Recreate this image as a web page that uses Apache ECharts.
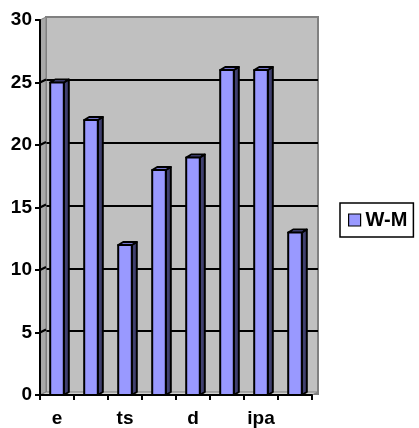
<!DOCTYPE html>
<html>
<head>
<meta charset="utf-8">
<title>W-M</title>
<script src="https://cdn.jsdelivr.net/npm/echarts@6/dist/echarts.min.js"></script>
<style>
  html, body { margin: 0; padding: 0; background: #ffffff; }
  #chart { width: 419px; height: 428px; }
</style>
</head>
<body>
<div id="chart"></div>
<script>
// Category labels (only every other one carries text)
const categories = ['e', '', 'ts', '', 'd', '', 'ipa', ''];
// W-M series values
const wmValues = [25, 22, 12, 18, 19, 26, 26, 13];
// Value axis ticks
const yTickValues = [0, 5, 10, 15, 20, 25, 30];

const Y_MIN = yTickValues[0];
const Y_MAX = yTickValues[yTickValues.length - 1];
const Y_STEP = yTickValues[1] - yTickValues[0];

// Depth offsets used to fake the 3D look
const WALL_DX = 6, WALL_DY = -3;
const BAR_DX = 5, BAR_DY = -3;

const FONT = '"Liberation Sans", Arial, sans-serif';

const chart = echarts.init(document.getElementById('chart'), null, { renderer: 'canvas' });

// Side wall and floor of the 3D box
function renderWalls(params, api) {
  const bw = api.size([1, 0])[0];
  const xL = api.coord([0, Y_MIN])[0] - bw / 2;
  const xR = api.coord([categories.length - 1, Y_MIN])[0] + bw / 2;
  const y0 = api.coord([0, Y_MIN])[1];
  const yT = api.coord([0, Y_MAX])[1];
  const children = [
    {
      type: 'polygon',
      shape: { points: [[xL, y0], [xL, yT], [xL + WALL_DX, yT + WALL_DY], [xL + WALL_DX, y0 + WALL_DY]] },
      style: { fill: '#A8A8A8', stroke: '#808080', lineWidth: 1 }
    },
    {
      type: 'polygon',
      shape: { points: [[xL, y0], [xR, y0], [xR + WALL_DX, y0 + WALL_DY], [xL + WALL_DX, y0 + WALL_DY]] },
      style: { fill: '#D0D0D0', stroke: '#808080', lineWidth: 1 }
    }
  ];
  yTickValues.forEach(function (v) {
    if (v === Y_MIN || v === Y_MAX) return;
    const y = api.coord([0, v])[1];
    children.push({
      type: 'line',
      shape: { x1: xL, y1: y, x2: xL + WALL_DX, y2: y + WALL_DY },
      style: { stroke: '#000', lineWidth: 2 }
    });
  });
  return { type: 'group', children: children };
}

// One 3D bar: front face, side face and top face
function renderBar(params, api) {
  const idx = api.value(0);
  const val = api.value(1);
  const top = api.coord([idx, val]);
  const base = api.coord([idx, Y_MIN]);
  const bw = api.size([1, 0])[0];
  const half = bw * 0.2;
  const x0 = top[0] - half, x1 = top[0] + half;
  const yt = top[1], yb = base[1];
  const edge = { stroke: '#000', lineWidth: 2, lineJoin: 'round' };
  return {
    type: 'group',
    children: [
      {
        type: 'polygon',
        shape: { points: [[x1, yt], [x1 + BAR_DX, yt + BAR_DY], [x1 + BAR_DX, yb + BAR_DY], [x1, yb]] },
        style: Object.assign({ fill: '#404070' }, edge)
      },
      {
        type: 'polygon',
        shape: { points: [[x0, yt], [x0 + BAR_DX, yt + BAR_DY], [x1 + BAR_DX, yt + BAR_DY], [x1, yt]] },
        style: Object.assign({ fill: '#7373CC' }, edge)
      },
      {
        type: 'rect',
        shape: { x: x0, y: yt, width: x1 - x0, height: yb - yt },
        style: Object.assign({ fill: '#9999FF' }, edge)
      }
    ]
  };
}

const mainGrid = { left: 40, right: 107, top: 20, bottom: 31 };

const option = {
  animation: false,
  backgroundColor: '#ffffff',
  grid: [
    // front plane: axes and bars
    { left: mainGrid.left, right: mainGrid.right, top: mainGrid.top, bottom: mainGrid.bottom },
    // back wall with gridlines
    {
      left: mainGrid.left + WALL_DX, right: mainGrid.right - WALL_DX,
      top: mainGrid.top + WALL_DY, bottom: mainGrid.bottom - WALL_DY,
      show: true, backgroundColor: '#C0C0C0', borderColor: '#808080', borderWidth: 2
    }
  ],
  xAxis: [
    {
      gridIndex: 0, type: 'category', data: categories, z: 10,
      axisLine: { show: true, lineStyle: { color: '#000', width: 2 } },
      axisTick: { show: true, inside: false, length: 5, interval: 0, lineStyle: { color: '#000', width: 2 } },
      axisLabel: { interval: 0, margin: 14, color: '#000', fontFamily: FONT, fontWeight: 'bold', fontSize: 19 },
      splitLine: { show: false }
    },
    {
      gridIndex: 1, type: 'category', data: categories,
      axisLine: { show: false }, axisTick: { show: false }, axisLabel: { show: false }, splitLine: { show: false }
    }
  ],
  yAxis: [
    {
      gridIndex: 0, type: 'value', min: Y_MIN, max: Y_MAX, interval: Y_STEP, z: 10,
      axisLine: { show: true, lineStyle: { color: '#000', width: 2 } },
      axisTick: { show: true, inside: false, length: 5, lineStyle: { color: '#000', width: 2 } },
      axisLabel: { margin: 8, color: '#000', fontFamily: FONT, fontWeight: 'bold', fontSize: 19 },
      splitLine: { show: false }
    },
    {
      gridIndex: 1, type: 'value', min: Y_MIN, max: Y_MAX, interval: Y_STEP,
      axisLine: { show: false }, axisTick: { show: false }, axisLabel: { show: false },
      splitLine: { show: true, showMinLine: false, showMaxLine: false, lineStyle: { color: '#000', width: 2 } }
    }
  ],
  legend: {
    show: true,
    left: 340, top: 203,
    orient: 'vertical',
    padding: [7, 6, 7, 8],
    borderColor: '#000', borderWidth: 1.5,
    backgroundColor: '#fff',
    itemWidth: 12, itemHeight: 12,
    itemGap: 5,
    data: [{ name: 'W-M', icon: 'rect', itemStyle: { color: '#9999FF', borderColor: '#000', borderWidth: 1.2 } }],
    textStyle: { color: '#000', fontFamily: FONT, fontWeight: 'bold', fontSize: 20 }
  },
  series: [
    {
      name: 'walls', type: 'custom', xAxisIndex: 0, yAxisIndex: 0, z: 1, silent: true,
      renderItem: renderWalls, data: [[0, 0]]
    },
    {
      name: 'W-M', type: 'custom', xAxisIndex: 0, yAxisIndex: 0, z: 3,
      itemStyle: { color: '#9999FF' },
      renderItem: renderBar,
      encode: { x: 0, y: 1 },
      data: wmValues.map(function (v, i) { return [i, v]; })
    }
  ]
};

chart.setOption(option);
</script>
</body>
</html>
